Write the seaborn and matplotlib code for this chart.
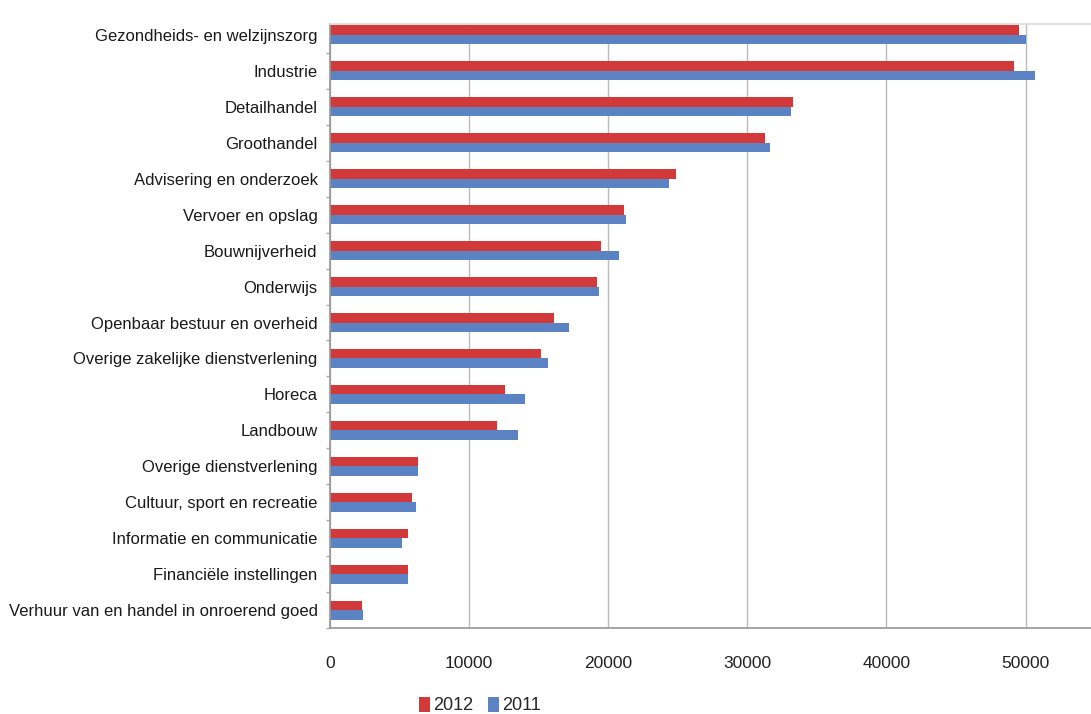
import matplotlib
matplotlib.use("Agg")
import matplotlib.pyplot as plt
import seaborn as sns
import pandas as pd
import numpy as np

categories = [
    "Gezondheids- en welzijnszorg",
    "Industrie",
    "Detailhandel",
    "Groothandel",
    "Advisering en onderzoek",
    "Vervoer en opslag",
    "Bouwnijverheid",
    "Onderwijs",
    "Openbaar bestuur en overheid",
    "Overige zakelijke dienstverlening",
    "Horeca",
    "Landbouw",
    "Overige dienstverlening",
    "Cultuur, sport en recreatie",
    "Informatie en communicatie",
    "Financiële instellingen",
    "Verhuur van en handel in onroerend goed",
]
values_2012 = [49500, 49200, 33300, 31300, 24900, 21100, 19500, 19200, 16100,
               15200, 12600, 12000, 6300, 5900, 5600, 5600, 2300]
values_2011 = [50000, 50700, 33100, 31600, 24400, 21300, 20800, 19300, 17200,
               15700, 14000, 13500, 6300, 6200, 5200, 5600, 2400]
years = ["2012", "2011"]
xticks = [0, 10000, 20000, 30000, 40000, 50000]

df = pd.DataFrame({
    "Sector": categories * 2,
    "Jaar": [years[0]] * len(categories) + [years[1]] * len(categories),
    "Waarde": values_2012 + values_2011,
})

sns.set_theme(style="white")
plt.rcParams["font.family"] = ["Liberation Sans", "DejaVu Sans"]

fig = plt.figure(figsize=(10.91, 7.14), dpi=100)
ax = fig.add_axes([0.3025, 0.1204, 0.6975, 0.846])

palette = {"2012": "#d2393a", "2011": "#5b82c2"}
sns.barplot(data=df, y="Sector", x="Waarde", hue="Jaar", order=categories,
            hue_order=years, palette=palette, width=0.53, orient="h",
            saturation=1, linewidth=0, ax=ax, legend=True)

n = len(categories)
ax.set_xlim(0, 54700)
ax.set_ylim(n - 1 + 0.44, -0.305)
ax.set_xticks(xticks)
ax.set_xticklabels([str(t) for t in xticks], fontsize=12.5, color="#222222")
ax.set_yticks(np.arange(n) + 0.5, minor=True)
ax.tick_params(axis="y", which="major", labelsize=12, labelcolor="#1a1a1a",
               length=0, pad=9)
ax.tick_params(axis="y", which="minor", length=3, color="#aaaaaa", left=True)
ax.tick_params(axis="x", length=0, pad=20)
ax.xaxis.grid(True, color="#bbbbbb", linewidth=1)
ax.set_axisbelow(True)
ax.set_xlabel("")
ax.set_ylabel("")
ax.spines["right"].set_visible(False)
ax.spines["top"].set_color("#dddddd")
ax.spines["left"].set_color("#999999")
ax.spines["bottom"].set_color("#999999")

handles, labels = ax.get_legend_handles_labels()
ax.get_legend().remove()
fig.legend(handles, labels, loc="center", bbox_to_anchor=(0.44, 0.012),
           ncol=2, frameon=False, fontsize=13, handlelength=0.6,
           handleheight=0.9, handletextpad=0.2, columnspacing=0.8)

fig.savefig("out.png", dpi=100)
